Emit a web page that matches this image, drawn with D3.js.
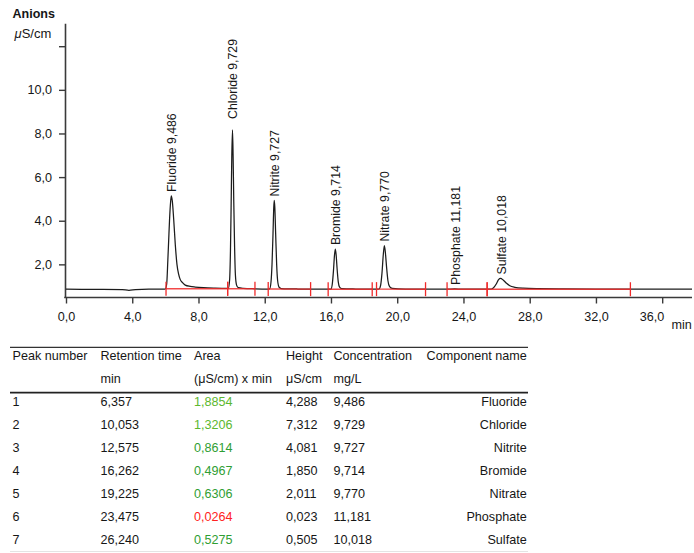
<!DOCTYPE html>
<html>
<head>
<meta charset="utf-8">
<script src="https://cdn.jsdelivr.net/npm/d3@7"></script>
<style>
  html, body { margin: 0; padding: 0; background: #fff; }
  svg { display: block; font-family: "Liberation Sans", Arial, sans-serif; }
</style>
</head>
<body>
<svg id="chart" width="694" height="553"></svg>
<script>
// Peak table
const peakNumbers = [1, 2, 3, 4, 5, 6, 7];
const retentionTimes = [6.357, 10.053, 12.575, 16.262, 19.225, 23.475, 26.240];
const areas = [1.8854, 1.3206, 0.8614, 0.4967, 0.6306, 0.0264, 0.5275];
const heights = [4.288, 7.312, 4.081, 1.850, 2.011, 0.023, 0.505];
const concentrations = [9.486, 9.729, 9.727, 9.714, 9.770, 11.181, 10.018];
const componentNames = ["Fluoride", "Chloride", "Nitrite", "Bromide", "Nitrate", "Phosphate", "Sulfate"];
const areaColors = ["#5cb82e", "#5cb82e", "#2f9e33", "#2f9e33", "#2f9e33", "#ff2222", "#2f9e33"];

// Detector baseline level (µS/cm)
const baselineLevel = 0.85;

// Conductivity trace: time (min) and signal (µS/cm)
const traceTime = [
  0, 2.0, 3.4, 3.8, 4.2, 5.0, 5.9,
  6.0, 6.08, 6.15, 6.2, 6.25, 6.3, 6.357, 6.42, 6.5, 6.6, 6.7, 6.8, 6.9, 7.05, 7.2, 7.5, 7.8, 8.3, 9.0, 9.7,
  9.8, 9.88, 9.93, 9.97, 10.01, 10.053, 10.09, 10.13, 10.18, 10.23, 10.3, 10.4, 10.7, 11.4, 12.2,
  12.3, 12.38, 12.44, 12.5, 12.545, 12.575, 12.61, 12.66, 12.72, 12.78, 12.87, 13.0, 14.0, 15.8,
  16.0, 16.08, 16.15, 16.21, 16.262, 16.31, 16.37, 16.44, 16.52, 16.65, 17.5, 18.6,
  18.9, 19.0, 19.08, 19.16, 19.225, 19.29, 19.36, 19.44, 19.54, 19.7, 20.5, 22.0, 23.0, 23.475, 23.9, 25.4,
  25.6, 25.8, 26.0, 26.12, 26.24, 26.4, 26.6, 26.8, 27.1, 27.6, 28.5, 30.0, 32.0, 34.0, 37.8
];
const traceSignal = [
  0.86, 0.85, 0.84, 0.81, 0.84, 0.86, 0.86,
  0.87, 1.1, 2.2, 3.1, 4.0, 4.7, 5.138, 4.9, 4.1, 2.9, 2.0, 1.55, 1.3, 1.15, 1.05, 0.99, 0.96, 0.93, 0.91, 0.9,
  0.9, 1.3, 2.6, 4.6, 6.9, 8.162, 7.0, 4.9, 2.8, 1.5, 1.05, 0.93, 0.9, 0.88, 0.87,
  0.88, 1.2, 2.0, 3.4, 4.6, 4.931, 4.6, 3.4, 2.0, 1.25, 0.95, 0.89, 0.87, 0.86,
  0.87, 1.1, 1.7, 2.4, 2.70, 2.45, 1.8, 1.2, 0.96, 0.89, 0.87, 0.86,
  0.87, 1.05, 1.6, 2.45, 2.861, 2.5, 1.85, 1.25, 0.98, 0.9, 0.87, 0.86, 0.86, 0.873, 0.86, 0.86,
  0.86, 0.92, 1.12, 1.3, 1.355, 1.28, 1.13, 1.02, 0.95, 0.91, 0.89, 0.88, 0.87, 0.86, 0.86
];

// Integration windows (min)
const integrationStart = [6.04, 9.76, 12.21, 15.83, 18.75, 23.01, 25.43];
const integrationEnd = [9.76, 11.41, 14.77, 18.49, 21.71, 25.43, 34.08];

// Axis ticks
const xTicks = [0, 4, 8, 12, 16, 20, 24, 28, 32, 36];
const yTicks = [2, 4, 6, 8, 10, 12];
const yTickLabels = ["2,0", "4,0", "6,0", "8,0", "10,0", ""];

const comma = s => s.replace(".", ",");
const fmt1 = d => comma(d3.format(".1f")(d));
const fmt3 = d => comma(d3.format(".3f")(d));
const fmt4 = d => comma(d3.format(".4f")(d));

const svg = d3.select("#chart");
const ink = "#161616";
const axisInk = "#3a3a3a";
const fontFamily = "Liberation Sans, Arial, sans-serif";

const x = d3.scaleLinear().domain([0, 37.8]).range([66, 692]);
const y = d3.scaleLinear().domain([0.49, 13.05]).range([297.3, 23.3]);

// Titles
svg.append("text").attr("x", 12.5).attr("y", 17.5)
  .attr("font-size", 12.5).attr("font-weight", "bold").attr("fill", ink).text("Anions");
const unit = svg.append("text").attr("x", 14.5).attr("y", 38)
  .attr("font-size", 13).attr("fill", ink);
unit.append("tspan").attr("font-style", "italic").text("μ");
unit.append("tspan").text("S/cm");

// Y axis
const yAxis = svg.append("g").attr("transform", "translate(65,0)")
  .call(d3.axisLeft(y).tickValues(yTicks)
    .tickFormat((d, i) => yTickLabels[i]).tickSize(6).tickSizeOuter(0).tickPadding(7));
yAxis.select(".domain").attr("stroke", axisInk).attr("stroke-width", 1.6);
yAxis.selectAll(".tick line").attr("stroke", axisInk).attr("stroke-width", 1.4);
yAxis.selectAll(".tick text").attr("font-size", 12.6).attr("fill", ink)
  .attr("font-family", fontFamily);

// X axis
const xAxis = svg.append("g").attr("transform", "translate(0,297.5)")
  .call(d3.axisBottom(x).tickValues(xTicks).tickFormat(fmt1)
    .tickSize(6).tickSizeOuter(0).tickPadding(9));
xAxis.select(".domain").attr("stroke", axisInk).attr("stroke-width", 1.6)
  .attr("d", `M${64.2},0H${692}`);
xAxis.selectAll(".tick line").attr("stroke", axisInk).attr("stroke-width", 1.4);
xAxis.selectAll(".tick text").attr("font-size", 12.6).attr("fill", ink)
  .attr("font-family", fontFamily);
// last tick label sits left of its tick to leave room for the unit
xAxis.selectAll(".tick text").filter(d => d === xTicks[xTicks.length - 1])
  .attr("text-anchor", "end").attr("x", 1.5);
svg.append("text").attr("x", 671.5).attr("y", 329)
  .attr("font-size", 12.6).attr("fill", ink).text("min");

// Trace
const trace = traceTime.map((t, i) => [t, traceSignal[i]]);
const signalAt = t => {
  const i = d3.bisector(d => d[0]).left(trace, t);
  if (i <= 0) return trace[0][1];
  if (i >= trace.length) return trace[trace.length - 1][1];
  const a = trace[i - 1], b = trace[i];
  return a[1] + (b[1] - a[1]) * (t - a[0]) / (b[0] - a[0]);
};

// Integration baselines
const red = "#f02a2a";
const integ = svg.append("g");
integrationStart.forEach((s, i) => {
  const e = integrationEnd[i];
  const ys = Math.min(signalAt(s), baselineLevel + 0.03);
  const ye = Math.min(signalAt(e), baselineLevel + 0.03);
  integ.append("line")
    .attr("x1", x(s)).attr("y1", y(ys)).attr("x2", x(e)).attr("y2", y(ye))
    .attr("stroke", red).attr("stroke-width", 1.4).attr("opacity", 0.85);
});

svg.append("path").datum(trace)
  .attr("fill", "none").attr("stroke", "#1c1c1c").attr("stroke-width", 1.25)
  .attr("d", d3.line().x(d => x(d[0])).y(d => y(d[1])).curve(d3.curveMonotoneX));

integrationStart.forEach((s, i) => {
  const e = integrationEnd[i];
  [s, e].forEach(t => {
    const yy = y(Math.min(signalAt(t), baselineLevel + 0.03));
    integ.append("line").attr("x1", x(t)).attr("x2", x(t))
      .attr("y1", yy - 7).attr("y2", yy + 7)
      .attr("stroke", red).attr("stroke-width", 1.3);
  });
});
svg.node().appendChild(integ.node());

// Peak labels (Chloride label sits a little higher above its peak)
const labelGap = name => (name === "Chloride" ? 11 : 4);
svg.append("g").selectAll("text").data(componentNames).join("text")
  .attr("transform", (d, i) =>
    `translate(${x(retentionTimes[i]) + 1},${y(baselineLevel + heights[i]) - labelGap(d)}) rotate(-90)`)
  .attr("font-size", 12.3).attr("fill", ink).attr("dominant-baseline", "central")
  .text((d, i) => `${d} ${fmt3(concentrations[i])}`);

// Results table
const tbl = svg.append("g").attr("font-size", 12.6).attr("fill", ink);
const colX = [12.5, 100.5, 194, 286, 333.5];
const nameRight = 526.7;
tbl.append("line").attr("x1", 10).attr("x2", 528).attr("y1", 347.3).attr("y2", 347.3)
  .attr("stroke", "#333").attr("stroke-width", 1.3);
tbl.append("line").attr("x1", 10).attr("x2", 528).attr("y1", 392.7).attr("y2", 392.7)
  .attr("stroke", "#222").attr("stroke-width", 1.8);
tbl.append("line").attr("x1", 10).attr("x2", 528).attr("y1", 551.5).attr("y2", 551.5)
  .attr("stroke", "#e4e4e4").attr("stroke-width", 1.2);

const header1 = ["Peak number", "Retention time", "Area", "Height", "Concentration"];
const header2 = ["", "min", "(μS/cm) x min", "μS/cm", "mg/L"];
header1.forEach((h, j) => tbl.append("text").attr("x", colX[j]).attr("y", 360).text(h));
tbl.append("text").attr("x", nameRight).attr("y", 360).attr("text-anchor", "end").text("Component name");
header2.forEach((h, j) => tbl.append("text").attr("x", colX[j]).attr("y", 382.6).text(h));

peakNumbers.forEach((n, i) => {
  const yy = 406 + i * 22.95;
  tbl.append("text").attr("x", colX[0]).attr("y", yy).text(n);
  tbl.append("text").attr("x", colX[1]).attr("y", yy).text(fmt3(retentionTimes[i]));
  tbl.append("text").attr("x", colX[2]).attr("y", yy).attr("fill", areaColors[i]).text(fmt4(areas[i]));
  tbl.append("text").attr("x", colX[3]).attr("y", yy).text(fmt3(heights[i]));
  tbl.append("text").attr("x", colX[4]).attr("y", yy).text(fmt3(concentrations[i]));
  tbl.append("text").attr("x", nameRight).attr("y", yy).attr("text-anchor", "end").text(componentNames[i]);
});
</script>
</body>
</html>
